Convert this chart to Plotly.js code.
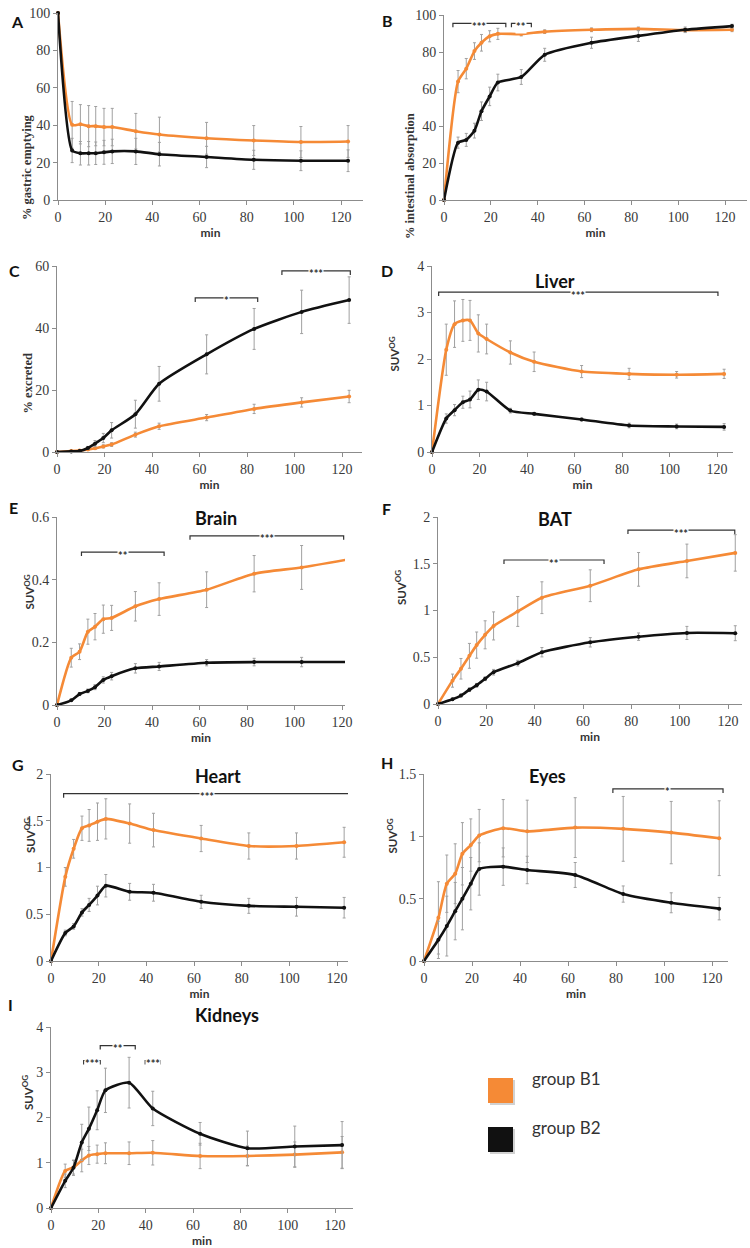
<!DOCTYPE html>
<html>
<head>
<meta charset="utf-8">
<script src="https://cdn.plot.ly/plotly-3.0.1.min.js"></script>
<style>
  html, body { margin: 0; padding: 0; background: #fff; }
  #chart { width: 750px; height: 1248px; }
</style>
</head>
<body>
<div id="chart"></div>
<script>
// sampling times (min), shared by every panel
const minutes = [0, 6, 9.5, 13, 16, 19.5, 23, 33, 43, 63, 83, 103, 123];

// A - gastric emptying (%)
const gastricB1 = [100, 40.2, 40.5, 39.5, 39.5, 39, 39, 36.8, 35, 33, 31.8, 31, 31.3];
const gastricB1Sd = [0, 12.5, 10.5, 11, 10.5, 10, 10, 9.5, 9.3, 8.5, 8, 8.3, 8.5];
const gastricB2 = [100, 26.5, 25, 25, 25, 25.5, 26, 26, 24.5, 23, 21.5, 21, 21];
const gastricB2Sd = [0, 6.5, 6.3, 6.3, 6, 6.4, 6.5, 7, 6.3, 5.7, 5.1, 5.3, 5.8];

// B - intestinal absorption (%)
const absorptionB1 = [0, 64, 71, 80.5, 85, 88.5, 89.8, 89.7, 91, 92, 92.5, 91.8, 92];
const absorptionB1Sd = [0, 6, 5.5, 4.5, 4.5, 3, 3, 1, 1, 1, 1, 1, 1];
const absorptionB2 = [0, 31, 32.5, 37.5, 48, 56, 63.5, 66.5, 78.5, 85, 88.7, 92, 94];
const absorptionB2Sd = [0, 3, 3.5, 4, 5, 5, 4.5, 4, 3.5, 3, 3, 1.5, 1];

// C - excreted (%)
const excretedB1 = [0, 0.3, 0.5, 0.8, 1.2, 1.8, 2.4, 5.6, 8.3, 11.1, 13.9, 16, 17.9];
const excretedB1Sd = [0, 0.2, 0.3, 0.3, 0.4, 0.5, 0.6, 0.8, 1, 1, 1.5, 1.5, 2];
const excretedB2 = [0, 0.2, 0.3, 1.3, 2.7, 4.5, 7, 12.2, 22, 31.5, 39.7, 45.2, 49];
const excretedB2Sd = [0, 0.1, 0.3, 0.5, 1, 1.5, 2.5, 4.5, 5.6, 6.3, 6.6, 7, 7.5];

// D - liver SUV
const liverB1 = [0, 2.2, 2.75, 2.83, 2.83, 2.55, 2.43, 2.14, 1.94, 1.73, 1.68, 1.66, 1.68];
const liverB1Sd = [0, 0.55, 0.5, 0.45, 0.43, 0.4, 0.32, 0.25, 0.21, 0.13, 0.12, 0.07, 0.1];
const liverB2 = [0, 0.72, 0.9, 1.07, 1.13, 1.34, 1.3, 0.89, 0.82, 0.7, 0.57, 0.55, 0.54];
const liverB2Sd = [0, 0.1, 0.12, 0.13, 0.18, 0.21, 0.2, 0.05, 0.03, 0.03, 0.05, 0.05, 0.07];

// E - brain SUV
const brainB1 = [0, 0.151, 0.17, 0.234, 0.25, 0.274, 0.278, 0.315, 0.338, 0.368, 0.419, 0.439, 0.465];
const brainB1Sd = [0, 0.03, 0.025, 0.04, 0.042, 0.045, 0.04, 0.047, 0.052, 0.057, 0.058, 0.07, 0.075];
const brainB2 = [0, 0.015, 0.035, 0.045, 0.057, 0.08, 0.092, 0.117, 0.123, 0.135, 0.137, 0.137, 0.137];
const brainB2Sd = [0, 0.003, 0.005, 0.006, 0.008, 0.01, 0.012, 0.015, 0.013, 0.01, 0.012, 0.015, 0.02];

// F - BAT SUV
const batB1 = [0, 0.25, 0.377, 0.515, 0.63, 0.74, 0.835, 0.99, 1.137, 1.265, 1.44, 1.53, 1.616];
const batB1Sd = [0, 0.07, 0.11, 0.133, 0.14, 0.15, 0.15, 0.16, 0.17, 0.17, 0.18, 0.18, 0.195];
const batB2 = [0, 0.05, 0.09, 0.153, 0.2, 0.27, 0.34, 0.437, 0.554, 0.66, 0.72, 0.76, 0.757];
const batB2Sd = [0, 0.01, 0.015, 0.02, 0.02, 0.02, 0.03, 0.03, 0.05, 0.05, 0.04, 0.07, 0.08];

// G - heart SUV
const heartB1 = [0, 0.9, 1.2, 1.42, 1.45, 1.49, 1.52, 1.47, 1.4, 1.31, 1.23, 1.23, 1.27];
const heartB1Sd = [0, 0.1, 0.1, 0.13, 0.17, 0.2, 0.215, 0.21, 0.18, 0.14, 0.14, 0.14, 0.16];
const heartB2 = [0, 0.3, 0.37, 0.52, 0.6, 0.7, 0.805, 0.74, 0.73, 0.633, 0.59, 0.58, 0.57];
const heartB2Sd = [0, 0.03, 0.03, 0.04, 0.07, 0.1, 0.12, 0.09, 0.09, 0.07, 0.08, 0.1, 0.11];

// H - eyes SUV
const eyesB1 = [0, 0.346, 0.62, 0.7, 0.86, 0.93, 1.006, 1.065, 1.04, 1.07, 1.06, 1.03, 0.985];
const eyesB1Sd = [0, 0.29, 0.23, 0.24, 0.25, 0.21, 0.21, 0.23, 0.25, 0.24, 0.26, 0.25, 0.3];
const eyesB2 = [0, 0.17, 0.28, 0.4, 0.5, 0.62, 0.738, 0.757, 0.73, 0.69, 0.537, 0.467, 0.42];
const eyesB2Sd = [0, 0.15, 0.24, 0.23, 0.25, 0.21, 0.21, 0.15, 0.11, 0.1, 0.065, 0.08, 0.09];

// I - kidneys SUV
const kidneysB1 = [0, 0.82, 0.9, 1.05, 1.16, 1.19, 1.21, 1.21, 1.22, 1.15, 1.15, 1.18, 1.23];
const kidneysB1Sd = [0, 0.15, 0.15, 0.25, 0.2, 0.2, 0.23, 0.25, 0.27, 0.28, 0.22, 0.28, 0.35];
const kidneysB2 = [0, 0.6, 0.89, 1.45, 1.75, 2.16, 2.6, 2.77, 2.2, 1.64, 1.32, 1.36, 1.39];
const kidneysB2Sd = [0, 0.15, 0.17, 0.4, 0.48, 0.43, 0.49, 0.56, 0.38, 0.25, 0.38, 0.45, 0.52];

// significance brackets: [from min, to min, height, stars]
const absorptionSig = [[3.8, 26.4, 95.5, '***'], [28.8, 37.3, 95.5, '**']];
const excretedSig = [[58.2, 84.5, 49.7, '*'], [94.7, 123.5, 58.4, '***']];
const liverSig = [[2.8, 120.4, 3.44, '***']];
const brainSig = [[10.3, 45.1, 0.488, '**'], [56, 120.7, 0.54, '***']];
const batSig = [[27.3, 68.7, 1.54, '**'], [78.6, 122.8, 1.86, '***']];
const heartSig = [[5.3, 125.5, 1.79, '***']];
const eyesSig = [[78.7, 124.6, 1.38, '*']];
const kidneysSig = [[13.8, 20.8, 3.26, '***'], [20.8, 35.6, 3.59, '**'], [39.8, 46.1, 3.26, '***']];

const groupNames = ['group B1', 'group B2'];

const ORANGE = '#f58a36';
const BLACK = '#111111';
const W = 750, H = 1248;

// px: [x of 0, x of 120, end of x axis], py: [top of y axis, y of 0]
const panels = [
  { letter: 'A', lp: [9, 10], title: '', yTitle: '% gastric emptying', yt: [18, 112], serifTitle: true,
    b1: gastricB1, b1Sd: gastricB1Sd, b2: gastricB2, b2Sd: gastricB2Sd, sig: [],
    ymax: 100, dtick: 20, px: [58, 341, 363], py: [13, 200] },
  { letter: 'B', lp: [387, 9], title: '', yTitle: '% intestinal absorption', yt: [410, 111], serifTitle: true,
    b1: absorptionB1, b1Sd: absorptionB1Sd, b2: absorptionB2, b2Sd: absorptionB2Sd, sig: absorptionSig,
    ymax: 100, dtick: 20, px: [444, 725, 747], py: [15, 200] },
  { letter: 'C', lp: [7, 259], title: '', yTitle: '% excreted', yt: [18, 351], serifTitle: true,
    b1: excretedB1, b1Sd: excretedB1Sd, b2: excretedB2, b2Sd: excretedB2Sd, sig: excretedSig,
    ymax: 60, dtick: 20, px: [57, 342, 362], py: [266, 452] },
  { letter: 'D', lp: [387, 259], title: 'Liver', tp: [577, 268], yTitle: 'SUV<sup>OG</sup>', yt: [394, 335],
    b1: liverB1, b1Sd: liverB1Sd, b2: liverB2, b2Sd: liverB2Sd, sig: liverSig,
    ymax: 4, dtick: 1, px: [432, 717, 733], py: [266, 452] },
  { letter: 'E', lp: [7, 507], title: 'Brain', tp: [193, 518], yTitle: 'SUV<sup>OG</sup>', yt: [19, 592],
    b1: brainB1, b1Sd: brainB1Sd, b2: brainB2, b2Sd: brainB2Sd, sig: brainSig,
    ymax: 0.6, dtick: 0.2, px: [57, 342, 345], py: [517, 705] },
  { letter: 'F', lp: [386, 508], title: 'BAT', tp: [574, 519], yTitle: 'SUV<sup>OG</sup>', yt: [400, 588],
    b1: batB1, b1Sd: batB1Sd, b2: batB2, b2Sd: batB2Sd, sig: batSig,
    ymax: 2, dtick: 0.5, px: [438, 728, 742], py: [517, 704] },
  { letter: 'G', lp: [10, 764], title: 'Heart', tp: [193, 776], yTitle: 'SUV<sup>OG</sup>', yt: [20, 855],
    b1: heartB1, b1Sd: heartB1Sd, b2: heartB2, b2Sd: heartB2Sd, sig: heartSig,
    ymax: 2, dtick: 0.5, px: [51, 337, 348], py: [774, 961] },
  { letter: 'H', lp: [387, 762], title: 'Eyes', tp: [568, 776], yTitle: 'SUV<sup>OG</sup>', yt: [392, 855],
    b1: eyesB1, b1Sd: eyesB1Sd, b2: eyesB2, b2Sd: eyesB2Sd, sig: eyesSig,
    ymax: 1.5, dtick: 0.5, px: [424, 712, 728], py: [774, 961] },
  { letter: 'I', lp: [6, 1016], title: 'Kidneys', tp: [193, 1028], yTitle: 'SUV<sup>OG</sup>', yt: [18, 1112],
    b1: kidneysB1, b1Sd: kidneysB1Sd, b2: kidneysB2, b2Sd: kidneysB2Sd, sig: kidneysSig,
    ymax: 4, dtick: 1, px: [51, 335, 353], py: [1027, 1208] },
];

const SERIF = '"Liberation Serif", "DejaVu Serif", serif';
const SANS = 'Lato, "Open Sans", "Liberation Sans", sans-serif';

const data = [];
const layout = {
  width: W, height: H,
  margin: { l: 0, r: 0, t: 0, b: 0 },
  paper_bgcolor: '#fff', plot_bgcolor: 'rgba(0,0,0,0)',
  showlegend: false,
  shapes: [], annotations: [],
};

function series(y, sd, color, xa, ya) {
  return {
    x: minutes, y: y, xaxis: xa, yaxis: ya,
    type: 'scatter', mode: 'lines+markers', cliponaxis: false,
    line: { color: color, width: 2.6, shape: 'spline', smoothing: 0.6 },
    marker: { color: color, size: 4 },
    error_y: { type: 'data', array: sd, visible: true, color: '#a0a0a0', thickness: 1, width: 1.5 },
    hoverinfo: 'x+y',
  };
}

panels.forEach((p, i) => {
  const n = i + 1;
  const xa = 'x' + (n === 1 ? '' : n), ya = 'y' + (n === 1 ? '' : n);
  const xmax = 120 * (p.px[2] - p.px[0]) / (p.px[1] - p.px[0]);

  data.push(series(p.b1, p.b1Sd, ORANGE, xa, ya));
  data.push(series(p.b2, p.b2Sd, BLACK, xa, ya));

  const axisCommon = {
    showline: true, linecolor: '#8c8c8c', linewidth: 1,
    ticks: 'outside', ticklen: 4, tickcolor: '#8c8c8c', tickwidth: 1,
    showgrid: false, zeroline: false, fixedrange: true,
    tickfont: { family: SERIF, size: 14, color: '#3a3a3a' },
  };
  layout['xaxis' + (n === 1 ? '' : n)] = Object.assign({}, axisCommon, {
    anchor: ya, domain: [p.px[0] / W, p.px[2] / W],
    range: [0, xmax], tick0: 0, dtick: 20,
    title: { text: 'min', standoff: 4, font: { family: SANS, size: 12, weight: 'bold', color: '#333' } },
  });
  layout['yaxis' + (n === 1 ? '' : n)] = Object.assign({}, axisCommon, {
    anchor: xa, domain: [1 - p.py[1] / H, 1 - p.py[0] / H],
    range: [0, p.ymax], tick0: 0, dtick: p.dtick,
  });

  // y-axis title
  layout.annotations.push({
    xref: 'paper', yref: 'paper', x: p.yt[0] / W, y: 1 - p.yt[1] / H,
    text: p.yTitle, textangle: -90, showarrow: false,
    font: p.serifTitle ? { family: SERIF, size: 12.5, weight: 'bold', color: '#333' }
                       : { family: SANS, size: 11.5, weight: 'bold', color: '#333' },
  });
  // panel letter
  layout.annotations.push({
    xref: 'paper', yref: 'paper', x: p.lp[0] / W, y: 1 - p.lp[1] / H,
    text: p.letter, showarrow: false,
    font: { family: SANS, size: 16, weight: 'bold', color: '#111' },
  });
  // organ title
  if (p.title) {
    layout.annotations.push({
      xref: 'paper', yref: 'paper', x: p.tp[0] / W, y: 1 - p.tp[1] / H,
      text: p.title, showarrow: false,
      font: { family: SANS, size: 18, weight: 'bold', color: '#111' },
    });
  }
  // significance brackets
  const hook = 4 * p.ymax / (p.py[1] - p.py[0]);
  p.sig.forEach(([x0, x1, y, stars]) => {
    layout.shapes.push({
      type: 'path', xref: xa, yref: ya,
      path: `M ${x0},${y - hook} L ${x0},${y} L ${x1},${y} L ${x1},${y - hook}`,
      line: { color: '#333', width: 1.2 },
    });
    layout.annotations.push({
      xref: xa, yref: ya, x: (x0 + x1) / 2, y: y, yshift: -3,
      text: stars, showarrow: false, bgcolor: '#fff', borderpad: 0,
      font: { family: SANS, size: 11, weight: 'bold', color: '#333' },
    });
  });
});

// legend swatches
const swatch = [ORANGE, BLACK];
groupNames.forEach((name, k) => {
  const top = 1078 + k * 49;
  layout.shapes.push({
    type: 'rect', xref: 'paper', yref: 'paper',
    x0: 490 / W, x1: 515 / W, y0: 1 - (top + 27) / H, y1: 1 - (top + 2) / H,
    fillcolor: 'rgba(0,0,0,0.18)', line: { width: 0 },
  });
  layout.shapes.push({
    type: 'rect', xref: 'paper', yref: 'paper',
    x0: 488 / W, x1: 513 / W, y0: 1 - (top + 25) / H, y1: 1 - top / H,
    fillcolor: swatch[k], line: { width: 0 },
  });
  layout.annotations.push({
    xref: 'paper', yref: 'paper', x: 530 / W, y: 1 - (top + 13) / H,
    xanchor: 'left', text: name, showarrow: false,
    font: { family: SANS, size: 17, color: '#333' },
  });
});

Plotly.newPlot('chart', data, layout, { displayModeBar: false, staticPlot: true });
</script>
</body>
</html>
